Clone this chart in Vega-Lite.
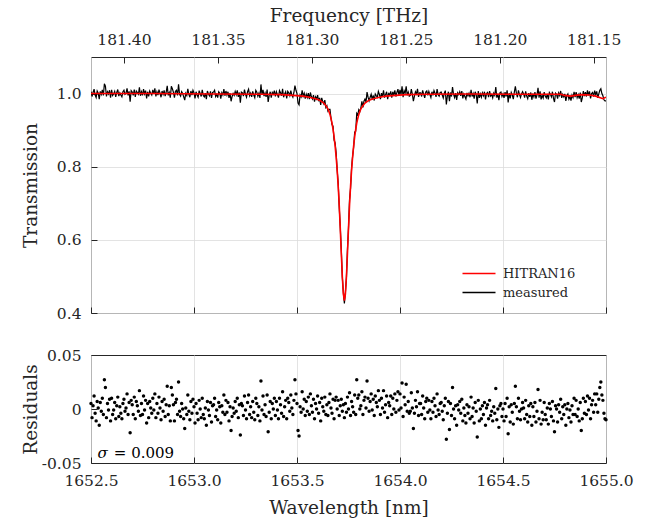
{
"$schema": "https://vega.github.io/schema/vega-lite/v6.json",
"padding": {"left": 20, "top": 5, "right": 20, "bottom": 4},
"bounds": "flush",
"spacing": 42,
"config": {
"font": "DejaVu Serif",
"view": {"stroke": "#262626", "strokeWidth": 1},
"text": {"font": "DejaVu Serif"},
"legend": {"labelFont": "DejaVu Serif"},
"axis": {"labelFont": "DejaVu Serif", "titleFont": "DejaVu Serif", "labelFontSize": 15.5, "titleFontSize": 18.5, "titleFontWeight": "normal", "labelColor": "#262626", "titleColor": "#262626", "tickColor": "#262626", "tickSize": -6, "tickWidth": 1, "labelPadding": 16, "domain": false, "gridColor": "#dcdcdc", "gridWidth": 0.8, "labelFlush": false, "labelOverlap": false}
},
"datasets": {
"meas": [
{"w":1652.500,"t":1.005,"r":0.005},{"w":1652.505,"t":0.992,"r":-0.008},{"w":1652.510,"t":1.003,"r":0.003},{"w":1652.515,"t":1.012,"r":0.012},{"w":1652.520,"t":0.996,"r":-0.004},{"w":1652.525,"t":0.989,"r":-0.011},{"w":1652.530,"t":1.007,"r":0.007},{"w":1652.535,"t":1.001,"r":0.001},{"w":1652.540,"t":0.985,"r":-0.015},{"w":1652.545,"t":1.006,"r":0.006},
{"w":1652.550,"t":0.998,"r":-0.002},{"w":1652.555,"t":1.010,"r":0.010},{"w":1652.560,"t":0.995,"r":-0.005},{"w":1652.565,"t":1.027,"r":0.027},{"w":1652.570,"t":1.020,"r":0.020},{"w":1652.575,"t":0.992,"r":-0.008},{"w":1652.580,"t":1.005,"r":0.005},{"w":1652.585,"t":0.999,"r":-0.001},{"w":1652.590,"t":1.009,"r":0.009},{"w":1652.595,"t":0.989,"r":-0.011},
{"w":1652.600,"t":1.010,"r":0.010},{"w":1652.605,"t":0.995,"r":-0.005},{"w":1652.610,"t":0.999,"r":-0.001},{"w":1652.615,"t":1.006,"r":0.006},{"w":1652.620,"t":0.991,"r":-0.009},{"w":1652.625,"t":1.003,"r":0.003},{"w":1652.630,"t":1.011,"r":0.011},{"w":1652.635,"t":0.993,"r":-0.007},{"w":1652.640,"t":1.002,"r":0.002},{"w":1652.645,"t":0.996,"r":-0.004},
{"w":1652.650,"t":0.991,"r":-0.009},{"w":1652.655,"t":1.005,"r":0.005},{"w":1652.660,"t":1.009,"r":0.009},{"w":1652.665,"t":0.998,"r":-0.002},{"w":1652.670,"t":1.001,"r":0.001},{"w":1652.675,"t":1.014,"r":0.014},{"w":1652.680,"t":0.995,"r":-0.005},{"w":1652.685,"t":1.006,"r":0.006},{"w":1652.690,"t":0.978,"r":-0.022},{"w":1652.695,"t":1.008,"r":0.008},
{"w":1652.700,"t":1.004,"r":0.004},{"w":1652.705,"t":0.995,"r":-0.005},{"w":1652.710,"t":1.011,"r":0.011},{"w":1652.715,"t":0.991,"r":-0.009},{"w":1652.720,"t":1.007,"r":0.007},{"w":1652.725,"t":1.003,"r":0.003},{"w":1652.730,"t":0.998,"r":-0.002},{"w":1652.735,"t":1.017,"r":0.017},{"w":1652.740,"t":0.994,"r":-0.006},{"w":1652.745,"t":1.005,"r":0.005},
{"w":1652.750,"t":0.995,"r":-0.005},{"w":1652.755,"t":1.012,"r":0.012},{"w":1652.760,"t":0.999,"r":-0.001},{"w":1652.765,"t":1.008,"r":0.008},{"w":1652.770,"t":0.987,"r":-0.013},{"w":1652.775,"t":1.005,"r":0.005},{"w":1652.780,"t":0.992,"r":-0.008},{"w":1652.785,"t":1.007,"r":0.007},{"w":1652.790,"t":1.001,"r":0.001},{"w":1652.795,"t":0.996,"r":-0.004},
{"w":1652.800,"t":1.010,"r":0.010},{"w":1652.805,"t":0.999,"r":-0.001},{"w":1652.810,"t":1.014,"r":0.014},{"w":1652.815,"t":0.992,"r":-0.008},{"w":1652.820,"t":1.005,"r":0.005},{"w":1652.825,"t":0.996,"r":-0.004},{"w":1652.830,"t":1.011,"r":0.011},{"w":1652.835,"t":1.001,"r":0.001},{"w":1652.840,"t":0.990,"r":-0.010},{"w":1652.845,"t":1.007,"r":0.007},
{"w":1652.850,"t":0.998,"r":-0.002},{"w":1652.855,"t":1.009,"r":0.009},{"w":1652.860,"t":0.993,"r":-0.007},{"w":1652.865,"t":1.004,"r":0.004},{"w":1652.870,"t":1.021,"r":0.021},{"w":1652.875,"t":0.995,"r":-0.005},{"w":1652.880,"t":1.003,"r":0.003},{"w":1652.885,"t":0.989,"r":-0.011},{"w":1652.890,"t":1.020,"r":0.020},{"w":1652.895,"t":1.013,"r":0.013},
{"w":1652.900,"t":1.004,"r":0.004},{"w":1652.905,"t":0.989,"r":-0.011},{"w":1652.910,"t":1.006,"r":0.006},{"w":1652.915,"t":1.009,"r":0.009},{"w":1652.920,"t":0.995,"r":-0.005},{"w":1652.925,"t":1.025,"r":0.025},{"w":1652.930,"t":0.998,"r":-0.002},{"w":1652.935,"t":0.993,"r":-0.007},{"w":1652.940,"t":1.005,"r":0.005},{"w":1652.945,"t":1.000,"r":0.000},
{"w":1652.950,"t":0.991,"r":-0.009},{"w":1652.955,"t":0.982,"r":-0.018},{"w":1652.960,"t":1.001,"r":0.001},{"w":1652.965,"t":0.995,"r":-0.005},{"w":1652.970,"t":1.013,"r":0.013},{"w":1652.975,"t":0.998,"r":-0.002},{"w":1652.980,"t":0.990,"r":-0.010},{"w":1652.985,"t":1.007,"r":0.007},{"w":1652.990,"t":0.996,"r":-0.004},{"w":1652.995,"t":1.009,"r":0.009},
{"w":1653.000,"t":1.002,"r":0.002},{"w":1653.005,"t":0.987,"r":-0.013},{"w":1653.010,"t":1.005,"r":0.005},{"w":1653.015,"t":0.996,"r":-0.004},{"w":1653.020,"t":0.990,"r":-0.010},{"w":1653.025,"t":1.008,"r":0.008},{"w":1653.030,"t":1.000,"r":0.000},{"w":1653.035,"t":0.992,"r":-0.008},{"w":1653.040,"t":1.010,"r":0.010},{"w":1653.045,"t":0.995,"r":-0.005},
{"w":1653.050,"t":0.991,"r":-0.009},{"w":1653.055,"t":1.001,"r":0.001},{"w":1653.060,"t":0.985,"r":-0.015},{"w":1653.065,"t":1.007,"r":0.007},{"w":1653.070,"t":0.999,"r":-0.001},{"w":1653.075,"t":0.994,"r":-0.006},{"w":1653.080,"t":1.006,"r":0.006},{"w":1653.085,"t":0.988,"r":-0.012},{"w":1653.090,"t":1.003,"r":0.003},{"w":1653.095,"t":1.004,"r":0.004},
{"w":1653.100,"t":1.009,"r":0.010},{"w":1653.105,"t":0.992,"r":-0.007},{"w":1653.110,"t":0.998,"r":-0.001},{"w":1653.115,"t":0.989,"r":-0.010},{"w":1653.120,"t":1.005,"r":0.006},{"w":1653.125,"t":1.001,"r":0.002},{"w":1653.130,"t":0.986,"r":-0.013},{"w":1653.135,"t":1.002,"r":0.003},{"w":1653.140,"t":0.996,"r":-0.003},{"w":1653.145,"t":1.012,"r":0.013},
{"w":1653.150,"t":0.994,"r":-0.005},{"w":1653.155,"t":1.007,"r":0.008},{"w":1653.160,"t":0.996,"r":-0.003},{"w":1653.165,"t":1.005,"r":0.006},{"w":1653.170,"t":0.988,"r":-0.011},{"w":1653.175,"t":1.001,"r":0.002},{"w":1653.180,"t":0.979,"r":-0.020},{"w":1653.185,"t":0.992,"r":-0.007},{"w":1653.190,"t":1.000,"r":0.001},{"w":1653.195,"t":0.995,"r":-0.004},
{"w":1653.200,"t":1.006,"r":0.007},{"w":1653.205,"t":0.997,"r":-0.002},{"w":1653.210,"t":1.009,"r":0.010},{"w":1653.215,"t":0.991,"r":-0.008},{"w":1653.220,"t":1.003,"r":0.004},{"w":1653.225,"t":0.975,"r":-0.024},{"w":1653.230,"t":1.004,"r":0.005},{"w":1653.235,"t":1.002,"r":0.003},{"w":1653.240,"t":0.993,"r":-0.006},{"w":1653.245,"t":1.011,"r":0.012},
{"w":1653.250,"t":0.998,"r":-0.001},{"w":1653.255,"t":0.990,"r":-0.009},{"w":1653.260,"t":1.005,"r":0.006},{"w":1653.265,"t":1.012,"r":0.013},{"w":1653.270,"t":0.994,"r":-0.005},{"w":1653.275,"t":1.001,"r":0.002},{"w":1653.280,"t":0.991,"r":-0.008},{"w":1653.285,"t":1.006,"r":0.007},{"w":1653.290,"t":0.996,"r":-0.003},{"w":1653.295,"t":0.989,"r":-0.010},
{"w":1653.300,"t":1.009,"r":0.010},{"w":1653.305,"t":1.004,"r":0.005},{"w":1653.310,"t":0.993,"r":-0.006},{"w":1653.315,"t":1.001,"r":0.002},{"w":1653.320,"t":0.988,"r":-0.011},{"w":1653.325,"t":1.025,"r":0.026},{"w":1653.330,"t":0.997,"r":-0.001},{"w":1653.335,"t":1.010,"r":0.012},{"w":1653.340,"t":0.993,"r":-0.005},{"w":1653.345,"t":1.002,"r":0.004},
{"w":1653.350,"t":0.991,"r":-0.007},{"w":1653.355,"t":1.011,"r":0.013},{"w":1653.360,"t":0.977,"r":-0.021},{"w":1653.365,"t":0.995,"r":-0.003},{"w":1653.370,"t":1.005,"r":0.007},{"w":1653.375,"t":0.989,"r":-0.009},{"w":1653.380,"t":1.003,"r":0.005},{"w":1653.385,"t":0.998,"r":0.000},{"w":1653.390,"t":1.008,"r":0.010},{"w":1653.395,"t":0.992,"r":-0.006},
{"w":1653.400,"t":1.005,"r":0.007},{"w":1653.405,"t":0.997,"r":-0.001},{"w":1653.410,"t":0.989,"r":-0.009},{"w":1653.415,"t":1.008,"r":0.010},{"w":1653.420,"t":1.002,"r":0.004},{"w":1653.425,"t":0.994,"r":-0.004},{"w":1653.430,"t":1.013,"r":0.016},{"w":1653.435,"t":0.990,"r":-0.007},{"w":1653.440,"t":0.999,"r":0.002},{"w":1653.445,"t":1.005,"r":0.008},
{"w":1653.450,"t":0.987,"r":-0.009},{"w":1653.455,"t":1.006,"r":0.010},{"w":1653.460,"t":1.002,"r":0.006},{"w":1653.465,"t":0.994,"r":-0.002},{"w":1653.470,"t":1.008,"r":0.013},{"w":1653.475,"t":0.996,"r":0.001},{"w":1653.480,"t":0.990,"r":-0.005},{"w":1653.485,"t":1.003,"r":0.008},{"w":1653.490,"t":1.022,"r":0.027},{"w":1653.495,"t":1.009,"r":0.014},
{"w":1653.500,"t":1.000,"r":0.005},{"w":1653.505,"t":0.974,"r":-0.020},{"w":1653.510,"t":0.969,"r":-0.025},{"w":1653.515,"t":0.996,"r":0.002},{"w":1653.520,"t":0.991,"r":-0.003},{"w":1653.525,"t":1.009,"r":0.016},{"w":1653.530,"t":0.993,"r":0.000},{"w":1653.535,"t":1.001,"r":0.009},{"w":1653.540,"t":0.986,"r":-0.006},{"w":1653.545,"t":0.998,"r":0.007},
{"w":1653.550,"t":0.989,"r":-0.002},{"w":1653.555,"t":1.001,"r":0.011},{"w":1653.560,"t":0.985,"r":-0.005},{"w":1653.565,"t":1.003,"r":0.014},{"w":1653.570,"t":0.991,"r":0.003},{"w":1653.575,"t":0.985,"r":-0.003},{"w":1653.580,"t":0.996,"r":0.009},{"w":1653.585,"t":0.978,"r":-0.009},{"w":1653.590,"t":0.991,"r":0.005},{"w":1653.595,"t":0.985,"r":0.000},
{"w":1653.600,"t":0.996,"r":0.012},{"w":1653.605,"t":0.979,"r":-0.004},{"w":1653.610,"t":0.988,"r":0.006},{"w":1653.615,"t":0.969,"r":-0.011},{"w":1653.620,"t":0.988,"r":0.010},{"w":1653.625,"t":0.978,"r":0.002},{"w":1653.630,"t":0.972,"r":-0.002},{"w":1653.635,"t":0.982,"r":0.011},{"w":1653.640,"t":0.962,"r":-0.005},{"w":1653.645,"t":0.967,"r":0.004},
{"w":1653.650,"t":0.952,"r":-0.006},{"w":1653.655,"t":0.957,"r":0.006},{"w":1653.660,"t":0.957,"r":0.014},{"w":1653.665,"t":0.933,"r":0.001},{"w":1653.670,"t":0.915,"r":-0.004},{"w":1653.675,"t":0.911,"r":0.009},{"w":1653.680,"t":0.873,"r":-0.009},{"w":1653.685,"t":0.865,"r":0.008},{"w":1653.690,"t":0.838,"r":0.011},{"w":1653.695,"t":0.791,"r":0.000},
{"w":1653.700,"t":0.755,"r":0.008},{"w":1653.705,"t":0.689,"r":-0.006},{"w":1653.710,"t":0.635,"r":0.003},{"w":1653.715,"t":0.573,"r":0.009},{"w":1653.720,"t":0.498,"r":-0.002},{"w":1653.725,"t":0.456,"r":0.004},{"w":1653.730,"t":0.426,"r":-0.008},{"w":1653.735,"t":0.457,"r":0.005},{"w":1653.740,"t":0.497,"r":-0.003},{"w":1653.745,"t":0.575,"r":0.011},
{"w":1653.750,"t":0.632,"r":0.000},{"w":1653.755,"t":0.710,"r":0.015},{"w":1653.760,"t":0.741,"r":-0.006},{"w":1653.765,"t":0.798,"r":0.007},{"w":1653.770,"t":0.829,"r":0.002},{"w":1653.775,"t":0.854,"r":-0.003},{"w":1653.780,"t":0.895,"r":0.013},{"w":1653.785,"t":0.897,"r":-0.005},{"w":1653.790,"t":0.946,"r":0.027},{"w":1653.795,"t":0.942,"r":0.010},
{"w":1653.800,"t":0.956,"r":0.013},{"w":1653.805,"t":0.951,"r":0.000},{"w":1653.810,"t":0.961,"r":0.003},{"w":1653.815,"t":0.979,"r":0.016},{"w":1653.820,"t":0.962,"r":-0.005},{"w":1653.825,"t":0.979,"r":0.008},{"w":1653.830,"t":0.985,"r":0.011},{"w":1653.835,"t":0.977,"r":0.001},{"w":1653.840,"t":1.004,"r":0.026},{"w":1653.845,"t":0.990,"r":0.010},
{"w":1653.850,"t":0.980,"r":-0.002},{"w":1653.855,"t":0.990,"r":0.007},{"w":1653.860,"t":0.998,"r":0.014},{"w":1653.865,"t":0.984,"r":-0.001},{"w":1653.870,"t":0.995,"r":0.009},{"w":1653.875,"t":0.981,"r":-0.006},{"w":1653.880,"t":0.999,"r":0.012},{"w":1653.885,"t":0.994,"r":0.006},{"w":1653.890,"t":0.990,"r":0.002},{"w":1653.895,"t":1.006,"r":0.017},
{"w":1653.900,"t":0.998,"r":0.008},{"w":1653.905,"t":0.985,"r":-0.005},{"w":1653.910,"t":1.001,"r":0.010},{"w":1653.915,"t":0.992,"r":0.001},{"w":1653.920,"t":1.009,"r":0.017},{"w":1653.925,"t":0.989,"r":-0.003},{"w":1653.930,"t":0.997,"r":0.004},{"w":1653.935,"t":1.005,"r":0.012},{"w":1653.940,"t":0.985,"r":-0.008},{"w":1653.945,"t":1.000,"r":0.006},
{"w":1653.950,"t":0.997,"r":0.003},{"w":1653.955,"t":1.006,"r":0.012},{"w":1653.960,"t":0.989,"r":-0.005},{"w":1653.965,"t":1.005,"r":0.010},{"w":1653.970,"t":0.995,"r":0.000},{"w":1653.975,"t":1.009,"r":0.014},{"w":1653.980,"t":0.992,"r":-0.003},{"w":1653.985,"t":1.003,"r":0.008},{"w":1653.990,"t":1.012,"r":0.016},{"w":1653.995,"t":0.995,"r":-0.001},
{"w":1654.000,"t":1.010,"r":0.014},{"w":1654.005,"t":0.997,"r":0.001},{"w":1654.010,"t":1.020,"r":0.024},{"w":1654.015,"t":0.990,"r":-0.007},{"w":1654.020,"t":1.008,"r":0.011},{"w":1654.025,"t":1.001,"r":0.004},{"w":1654.030,"t":1.020,"r":0.023},{"w":1654.035,"t":0.995,"r":-0.002},{"w":1654.040,"t":1.004,"r":0.007},{"w":1654.045,"t":0.993,"r":-0.004},
{"w":1654.050,"t":0.995,"r":-0.002},{"w":1654.055,"t":1.012,"r":0.015},{"w":1654.060,"t":0.998,"r":0.001},{"w":1654.065,"t":0.979,"r":-0.018},{"w":1654.070,"t":0.993,"r":-0.004},{"w":1654.075,"t":1.005,"r":0.008},{"w":1654.080,"t":0.999,"r":0.002},{"w":1654.085,"t":1.013,"r":0.016},{"w":1654.090,"t":0.991,"r":-0.006},{"w":1654.095,"t":1.002,"r":0.005},
{"w":1654.100,"t":1.002,"r":0.005},{"w":1654.105,"t":0.992,"r":-0.005},{"w":1654.110,"t":1.009,"r":0.012},{"w":1654.115,"t":0.998,"r":0.001},{"w":1654.120,"t":0.988,"r":-0.009},{"w":1654.125,"t":1.004,"r":0.007},{"w":1654.130,"t":1.007,"r":0.010},{"w":1654.135,"t":0.995,"r":-0.003},{"w":1654.140,"t":1.006,"r":0.008},{"w":1654.145,"t":0.997,"r":-0.001},
{"w":1654.150,"t":0.989,"r":-0.009},{"w":1654.155,"t":1.005,"r":0.007},{"w":1654.160,"t":0.995,"r":-0.003},{"w":1654.165,"t":1.008,"r":0.010},{"w":1654.170,"t":1.001,"r":0.003},{"w":1654.175,"t":0.991,"r":-0.007},{"w":1654.180,"t":1.012,"r":0.014},{"w":1654.185,"t":0.997,"r":-0.001},{"w":1654.190,"t":0.993,"r":-0.005},{"w":1654.195,"t":1.003,"r":0.005},
{"w":1654.200,"t":1.004,"r":0.006},{"w":1654.205,"t":0.996,"r":-0.002},{"w":1654.210,"t":0.988,"r":-0.010},{"w":1654.215,"t":1.001,"r":0.003},{"w":1654.220,"t":1.008,"r":0.010},{"w":1654.225,"t":0.970,"r":-0.028},{"w":1654.230,"t":0.994,"r":-0.004},{"w":1654.235,"t":1.005,"r":0.007},{"w":1654.240,"t":0.979,"r":-0.019},{"w":1654.245,"t":1.003,"r":0.005},
{"w":1654.250,"t":0.992,"r":-0.006},{"w":1654.255,"t":1.018,"r":0.020},{"w":1654.260,"t":0.998,"r":0.000},{"w":1654.265,"t":0.989,"r":-0.009},{"w":1654.270,"t":1.001,"r":0.003},{"w":1654.275,"t":0.983,"r":-0.015},{"w":1654.280,"t":1.002,"r":0.004},{"w":1654.285,"t":0.997,"r":-0.001},{"w":1654.290,"t":1.005,"r":0.007},{"w":1654.295,"t":0.994,"r":-0.004},
{"w":1654.300,"t":1.007,"r":0.009},{"w":1654.305,"t":0.987,"r":-0.011},{"w":1654.310,"t":0.999,"r":0.001},{"w":1654.315,"t":0.992,"r":-0.006},{"w":1654.320,"t":0.985,"r":-0.013},{"w":1654.325,"t":1.002,"r":0.004},{"w":1654.330,"t":0.994,"r":-0.004},{"w":1654.335,"t":1.001,"r":0.002},{"w":1654.340,"t":0.990,"r":-0.009},{"w":1654.345,"t":1.010,"r":0.011},
{"w":1654.350,"t":0.992,"r":-0.007},{"w":1654.355,"t":1.000,"r":0.001},{"w":1654.360,"t":0.986,"r":-0.013},{"w":1654.365,"t":1.005,"r":0.006},{"w":1654.370,"t":0.997,"r":-0.002},{"w":1654.375,"t":0.973,"r":-0.026},{"w":1654.380,"t":1.007,"r":0.008},{"w":1654.385,"t":0.988,"r":-0.011},{"w":1654.390,"t":0.999,"r":0.000},{"w":1654.395,"t":0.990,"r":-0.009},
{"w":1654.400,"t":1.002,"r":0.003},{"w":1654.405,"t":0.994,"r":-0.005},{"w":1654.410,"t":1.005,"r":0.006},{"w":1654.415,"t":0.984,"r":-0.015},{"w":1654.420,"t":1.000,"r":0.001},{"w":1654.425,"t":1.003,"r":0.004},{"w":1654.430,"t":0.990,"r":-0.009},{"w":1654.435,"t":1.007,"r":0.008},{"w":1654.440,"t":0.993,"r":-0.006},{"w":1654.445,"t":0.997,"r":-0.002},
{"w":1654.450,"t":0.988,"r":-0.011},{"w":1654.455,"t":1.001,"r":0.002},{"w":1654.460,"t":0.995,"r":-0.004},{"w":1654.465,"t":1.018,"r":0.019},{"w":1654.470,"t":0.989,"r":-0.010},{"w":1654.475,"t":0.999,"r":0.000},{"w":1654.480,"t":0.982,"r":-0.017},{"w":1654.485,"t":1.002,"r":0.003},{"w":1654.490,"t":1.004,"r":0.005},{"w":1654.495,"t":0.992,"r":-0.007},
{"w":1654.500,"t":0.999,"r":0.000},{"w":1654.505,"t":0.988,"r":-0.011},{"w":1654.510,"t":1.004,"r":0.005},{"w":1654.515,"t":0.992,"r":-0.007},{"w":1654.520,"t":1.009,"r":0.010},{"w":1654.525,"t":0.976,"r":-0.023},{"w":1654.530,"t":1.001,"r":0.002},{"w":1654.535,"t":0.987,"r":-0.012},{"w":1654.540,"t":1.003,"r":0.004},{"w":1654.545,"t":0.996,"r":-0.003},
{"w":1654.550,"t":0.985,"r":-0.014},{"w":1654.555,"t":1.004,"r":0.005},{"w":1654.560,"t":1.020,"r":0.021},{"w":1654.565,"t":1.001,"r":0.002},{"w":1654.570,"t":0.990,"r":-0.009},{"w":1654.575,"t":1.009,"r":0.010},{"w":1654.580,"t":0.997,"r":-0.002},{"w":1654.585,"t":0.989,"r":-0.010},{"w":1654.590,"t":0.999,"r":0.000},{"w":1654.595,"t":1.005,"r":0.006},
{"w":1654.600,"t":0.999,"r":0.001},{"w":1654.605,"t":0.989,"r":-0.009},{"w":1654.610,"t":1.006,"r":0.008},{"w":1654.615,"t":0.993,"r":-0.005},{"w":1654.620,"t":0.986,"r":-0.012},{"w":1654.625,"t":1.001,"r":0.003},{"w":1654.630,"t":0.991,"r":-0.007},{"w":1654.635,"t":1.003,"r":0.005},{"w":1654.640,"t":0.983,"r":-0.015},{"w":1654.645,"t":1.000,"r":0.002},
{"w":1654.650,"t":0.991,"r":-0.007},{"w":1654.655,"t":1.004,"r":0.006},{"w":1654.660,"t":0.986,"r":-0.012},{"w":1654.665,"t":0.996,"r":-0.002},{"w":1654.670,"t":1.016,"r":0.018},{"w":1654.675,"t":0.989,"r":-0.009},{"w":1654.680,"t":1.006,"r":0.008},{"w":1654.685,"t":0.984,"r":-0.014},{"w":1654.690,"t":0.995,"r":-0.003},{"w":1654.695,"t":0.988,"r":-0.010},
{"w":1654.700,"t":1.004,"r":0.006},{"w":1654.705,"t":0.993,"r":-0.005},{"w":1654.710,"t":0.988,"r":-0.010},{"w":1654.715,"t":0.999,"r":0.001},{"w":1654.720,"t":0.984,"r":-0.014},{"w":1654.725,"t":1.003,"r":0.005},{"w":1654.730,"t":0.998,"r":0.000},{"w":1654.735,"t":0.991,"r":-0.007},{"w":1654.740,"t":1.005,"r":0.007},{"w":1654.745,"t":0.987,"r":-0.011},
{"w":1654.750,"t":0.977,"r":-0.021},{"w":1654.755,"t":1.001,"r":0.003},{"w":1654.760,"t":0.998,"r":0.000},{"w":1654.765,"t":0.986,"r":-0.012},{"w":1654.770,"t":1.002,"r":0.004},{"w":1654.775,"t":0.995,"r":-0.003},{"w":1654.780,"t":1.007,"r":0.009},{"w":1654.785,"t":0.988,"r":-0.009},{"w":1654.790,"t":0.998,"r":0.002},{"w":1654.795,"t":0.991,"r":-0.005},
{"w":1654.800,"t":0.999,"r":0.004},{"w":1654.805,"t":0.980,"r":-0.015},{"w":1654.810,"t":0.994,"r":0.000},{"w":1654.815,"t":0.999,"r":0.005},{"w":1654.820,"t":0.985,"r":-0.008},{"w":1654.825,"t":0.992,"r":-0.001},{"w":1654.830,"t":0.981,"r":-0.012},{"w":1654.835,"t":0.996,"r":0.003},{"w":1654.840,"t":0.989,"r":-0.005},{"w":1654.845,"t":1.005,"r":0.010},
{"w":1654.850,"t":0.990,"r":-0.005},{"w":1654.855,"t":1.004,"r":0.008},{"w":1654.860,"t":0.989,"r":-0.007},{"w":1654.865,"t":0.997,"r":0.000},{"w":1654.870,"t":0.986,"r":-0.011},{"w":1654.875,"t":1.003,"r":0.006},{"w":1654.880,"t":0.977,"r":-0.020},{"w":1654.885,"t":0.988,"r":-0.009},{"w":1654.890,"t":1.007,"r":0.010},{"w":1654.895,"t":0.993,"r":-0.004},
{"w":1654.900,"t":1.004,"r":0.007},{"w":1654.905,"t":0.992,"r":-0.005},{"w":1654.910,"t":1.009,"r":0.012},{"w":1654.915,"t":0.995,"r":-0.001},{"w":1654.920,"t":1.006,"r":0.010},{"w":1654.925,"t":0.987,"r":-0.009},{"w":1654.930,"t":1.000,"r":0.004},{"w":1654.935,"t":1.003,"r":0.008},{"w":1654.940,"t":0.992,"r":-0.003},{"w":1654.945,"t":1.008,"r":0.014},
{"w":1654.950,"t":0.997,"r":0.004},{"w":1654.955,"t":1.006,"r":0.014},{"w":1654.960,"t":0.988,"r":-0.003},{"w":1654.965,"t":0.999,"r":0.009},{"w":1654.970,"t":1.009,"r":0.020},{"w":1654.975,"t":1.013,"r":0.025},{"w":1654.980,"t":1.000,"r":0.013},{"w":1654.985,"t":0.994,"r":0.008},{"w":1654.990,"t":0.983,"r":-0.004},{"w":1654.995,"t":0.980,"r":-0.009},
{"w":1655.000,"t":0.980,"r":-0.010}
],
"hit": [
{"w":1652.5,"t":1.0},{"w":1652.8,"t":1.0},{"w":1653.1,"t":0.999},{"w":1653.33,"t":0.998},{"w":1653.43,"t":0.997},{"w":1653.48,"t":0.995},{"w":1653.53,"t":0.993},{"w":1653.56,"t":0.99},{"w":1653.58,"t":0.987},{"w":1653.59,"t":0.986},{"w":1653.6,"t":0.984},{"w":1653.61,"t":0.982},{"w":1653.62,"t":0.978},{"w":1653.63,"t":0.974},{"w":1653.64,"t":0.967},{"w":1653.65,"t":0.958},{"w":1653.655,"t":0.951},{"w":1653.66,"t":0.943},{"w":1653.665,"t":0.932},{"w":1653.67,"t":0.919},{"w":1653.675,"t":0.902},{"w":1653.68,"t":0.882},{"w":1653.685,"t":0.857},{"w":1653.69,"t":0.827},{"w":1653.695,"t":0.791},{"w":1653.7,"t":0.747},{"w":1653.705,"t":0.695},{"w":1653.71,"t":0.632},{"w":1653.715,"t":0.564},{"w":1653.72,"t":0.5},{"w":1653.725,"t":0.452},{"w":1653.73,"t":0.434},{"w":1653.735,"t":0.452},{"w":1653.74,"t":0.5},{"w":1653.745,"t":0.564},{"w":1653.75,"t":0.632},{"w":1653.755,"t":0.695},{"w":1653.76,"t":0.747},{"w":1653.765,"t":0.791},{"w":1653.77,"t":0.827},{"w":1653.775,"t":0.857},{"w":1653.78,"t":0.882},{"w":1653.785,"t":0.902},{"w":1653.79,"t":0.919},{"w":1653.795,"t":0.932},{"w":1653.8,"t":0.943},{"w":1653.805,"t":0.951},{"w":1653.81,"t":0.958},{"w":1653.82,"t":0.967},{"w":1653.83,"t":0.974},{"w":1653.84,"t":0.978},{"w":1653.85,"t":0.982},{"w":1653.86,"t":0.984},{"w":1653.87,"t":0.986},{"w":1653.88,"t":0.987},{"w":1653.9,"t":0.99},{"w":1653.93,"t":0.993},{"w":1653.98,"t":0.995},{"w":1654.03,"t":0.997},{"w":1654.13,"t":0.998},{"w":1654.33,"t":0.999},{"w":1654.6,"t":0.998},{"w":1654.78,"t":0.998},{"w":1654.8,"t":0.995},{"w":1654.83,"t":0.993},{"w":1654.85,"t":0.995},{"w":1654.88,"t":0.997},{"w":1654.92,"t":0.996},{"w":1654.95,"t":0.993},{"w":1654.985,"t":0.986},{"w":1655.0,"t":0.99}
]
},
"vconcat": [
{
"width": 515, "height": 256,
"resolve": {"scale": {"x": "independent"}, "axis": {"x": "independent"}},
"layer": [
{
"layer": [
{"data": {"name": "meas"}, "mark": {"type": "line", "strokeWidth": 1.2, "clip": true},
"encoding": {
"x": {"field": "w", "type": "quantitative", "scale": {"domain": [1652.5, 1655], "nice": false, "zero": false}, "axis": {"values": [1652.5, 1653, 1653.5, 1654, 1654.5, 1655], "labels": false, "title": null, "grid": true}},
"y": {"field": "t", "type": "quantitative", "scale": {"domain": [0.4, 1.1], "nice": false, "zero": false}, "axis": {"values": [0.4, 0.6, 0.8, 1.0], "format": ".1f", "title": "Transmission", "grid": true, "titleX": -61, "titleBaseline": "middle"}},
"color": {"datum": "measured", "type": "nominal", "scale": {"domain": ["HITRAN16", "measured"], "range": ["#ff0000", "#000000"]},
"legend": {"orient": "none", "legendX": 381.5, "legendY": 210, "title": null, "symbolType": "M-3.3,0H3.3", "symbolSize": 100, "symbolStrokeWidth": 1.5, "symbolFillColor": "transparent", "rowPadding": 5, "padding": 0, "labelFontSize": 13, "labelOffset": 17.5, "labelColor": "#262626"}}
}},
{"data": {"name": "hit"}, "mark": {"type": "line", "strokeWidth": 1.6, "clip": true},
"encoding": {
"x": {"field": "w", "type": "quantitative"},
"y": {"field": "t", "type": "quantitative"},
"color": {"datum": "HITRAN16", "type": "nominal"}
}}
]
},
{"data": {"values": [{"f": 181.14348}, {"f": 181.41752}]}, "mark": {"type": "point", "opacity": 0},
"encoding": {
"x": {"field": "f", "type": "quantitative", "scale": {"domain": [181.14348, 181.41752], "reverse": true, "nice": false, "zero": false},
"axis": {"orient": "top", "values": [181.15, 181.2, 181.25, 181.3, 181.35, 181.4], "format": ".2f", "title": "Frequency [THz]", "grid": false, "titleY": -42, "titleBaseline": "middle"}}
}}
]
},
{
"width": 515, "height": 108,
"layer": [
{"data": {"name": "meas"}, "mark": {"type": "circle", "size": 12, "color": "#000000", "opacity": 1},
"encoding": {
"x": {"field": "w", "type": "quantitative", "scale": {"domain": [1652.5, 1655], "nice": false, "zero": false}, "axis": {"values": [1652.5, 1653, 1653.5, 1654, 1654.5, 1655], "format": ".1f", "title": "Wavelength [nm]", "grid": true, "titleY": 44, "titleBaseline": "middle"}},
"y": {"field": "r", "type": "quantitative", "scale": {"domain": [-0.05, 0.05], "nice": false, "zero": false}, "axis": {"values": [-0.05, 0, 0.05], "labelExpr": "datum.value == 0 ? '0' : (datum.value < 0 ? '-0.05' : '0.05')", "title": "Residuals", "grid": false, "titleX": -61, "titleBaseline": "middle"}}
}},
{"data": {"values": [{"w": 1652.532, "r": -0.0405, "s": "σ"}]}, "mark": {"type": "text", "fontSize": 15, "fontStyle": "italic", "align": "left", "baseline": "middle", "color": "#000000"},
"encoding": {"x": {"field": "w", "type": "quantitative"}, "y": {"field": "r", "type": "quantitative"}, "text": {"field": "s"}}},
{"data": {"values": [{"w": 1652.611, "r": -0.0405, "s": "= 0.009"}]}, "mark": {"type": "text", "fontSize": 15, "align": "left", "baseline": "middle", "color": "#000000"},
"encoding": {"x": {"field": "w", "type": "quantitative"}, "y": {"field": "r", "type": "quantitative"}, "text": {"field": "s"}}}
]
}
]
}
